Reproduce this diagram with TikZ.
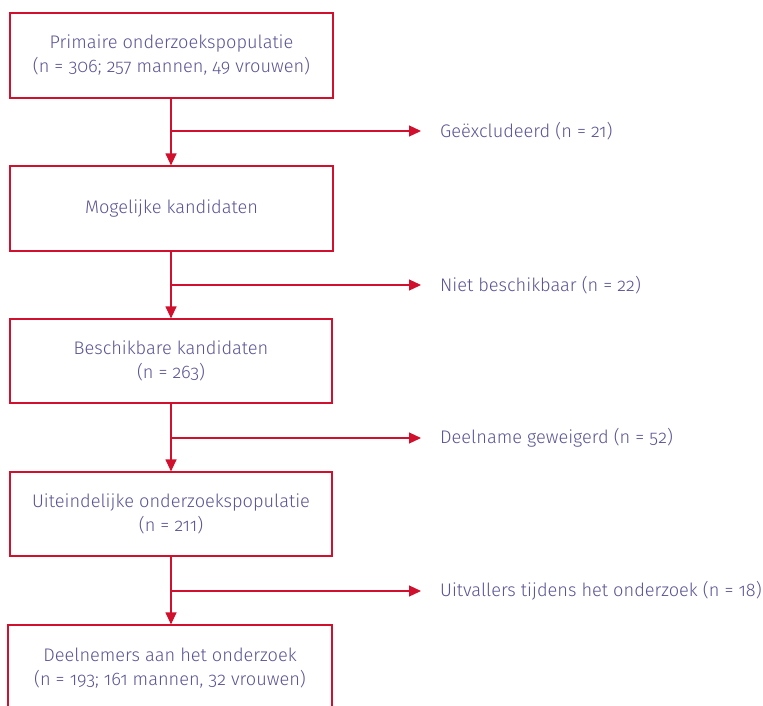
\documentclass[tikz,border=0pt]{standalone}
\usepackage{fontspec}
\setmainfont{Fira Sans}[Numbers=OldStyle,UprightFont=* Light]
\usetikzlibrary{arrows.meta}
\definecolor{ored}{RGB}{208,16,44}
\definecolor{otext}{RGB}{90,84,148}
\begin{document}
\begin{tikzpicture}[x=1pt,y=-1pt,
  box/.style={draw=ored,line width=1.2pt,minimum width=323pt,inner sep=0pt,align=center,text=otext,font=\fontsize{18.2}{24}\selectfont},
  lbl/.style={anchor=west,inner sep=0pt,text=otext,font=\fontsize{18.2}{24}\selectfont},
  conn/.style={draw=ored,line width=1.2pt,-{Triangle[length=12pt,width=11pt]}}]
\useasboundingbox (0,0) rectangle (763,705);
\clip (0,0) rectangle (763,705);
\node[box,minimum height=85pt] (b1) at (171.5,55.5) {Primaire onderzoekspopulatie\\(n = 306; 257 mannen, 49 vrouwen)};
\node[box,minimum height=85pt] (b2) at (171.5,208.5) {Mogelijke kandidaten};
\node[box,minimum height=84pt,minimum width=322pt] (b3) at (171,361) {Beschikbare kandidaten\\(n = 263)};
\node[box,minimum height=84pt,minimum width=322pt] (b4) at (171,514) {Uiteindelijke onderzoekspopulatie\\(n = 211)};
\node[box,minimum height=86pt,minimum width=324pt] (b5) at (170,668) {Deelnemers aan het onderzoek\\(n = 193; 161 mannen, 32 vrouwen)};
\node[lbl] (l1) at (440,131) {Geëxcludeerd (n = 21)};
\node[lbl] (l2) at (440,285) {Niet beschikbaar (n = 22)};
\node[lbl] (l3) at (440,438) {Deelname geweigerd (n = 52)};
\node[lbl] (l4) at (440,591) {Uitvallers tijdens het onderzoek (n = 18)};
\foreach \a/\b/\l in {b1/b2/l1,b2/b3/l2,b3/b4/l3,b4/b5/l4}{
  \draw[conn] (\a.south -| 171,0) -- (\b.north -| 171,0);
  \draw[conn] (171,0 |- \l.west) -- ([xshift=-19pt]\l.west);
}
\end{tikzpicture}
\end{document}
